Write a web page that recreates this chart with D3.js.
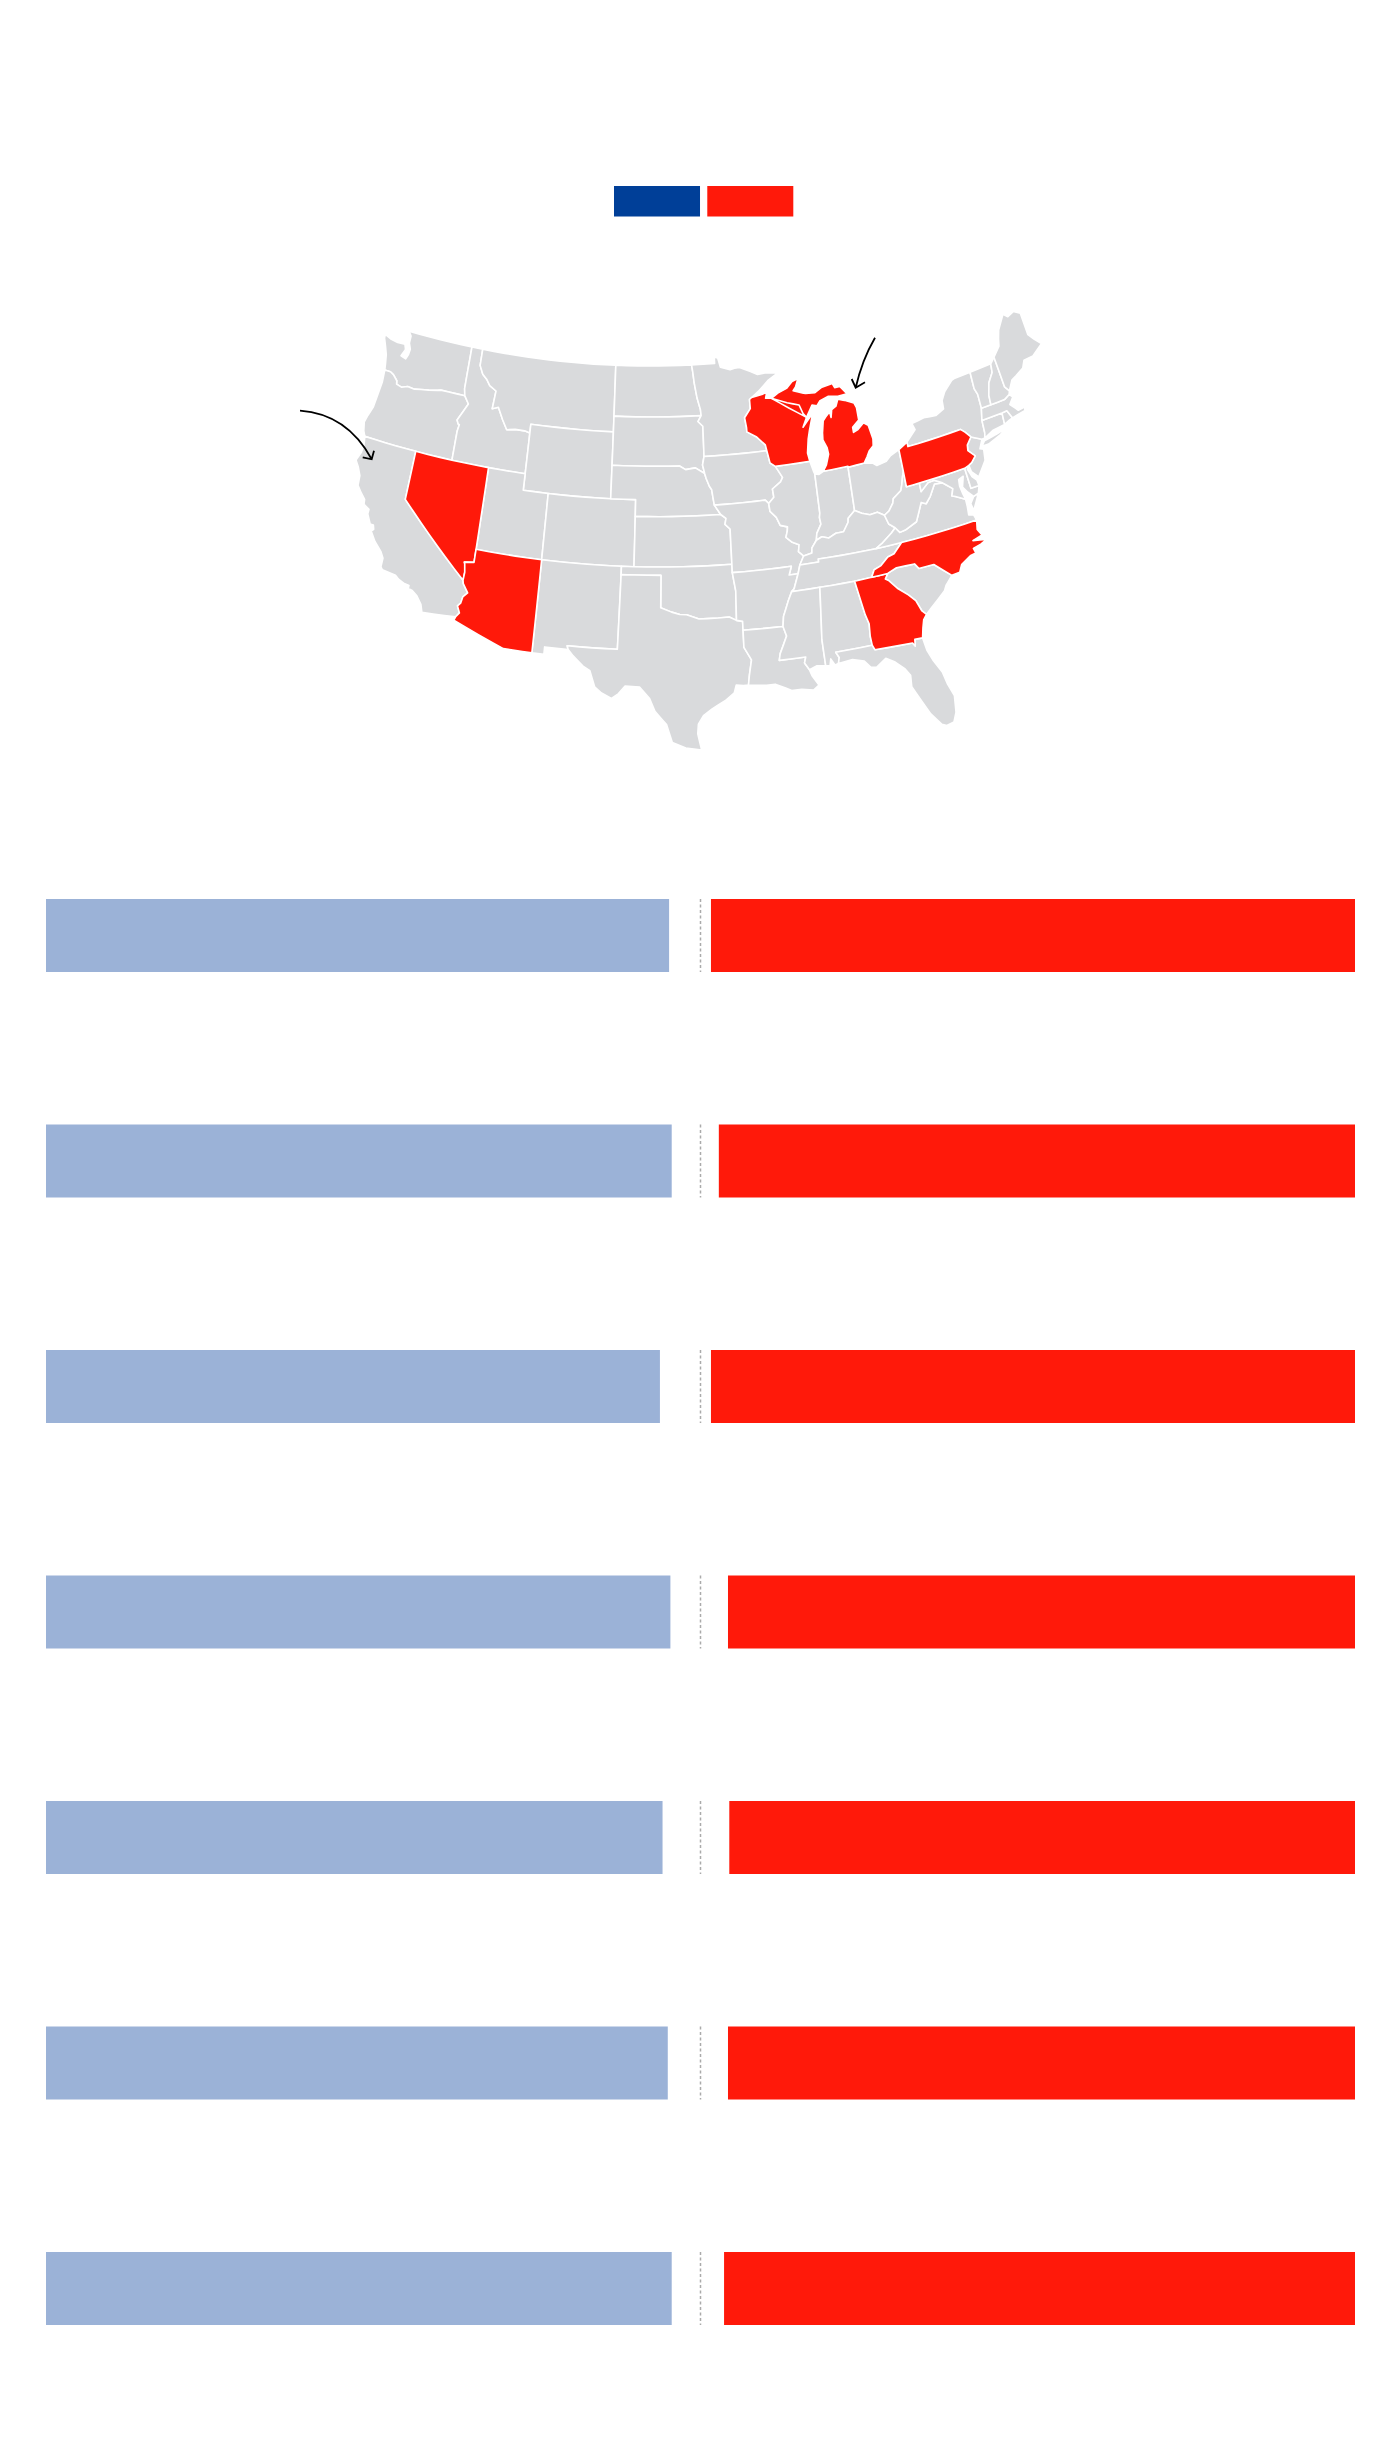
<!DOCTYPE html>
<html>
<head>
<meta charset="utf-8">
<script src="https://cdnjs.cloudflare.com/ajax/libs/d3/7.8.5/d3.min.js"></script>
<style>
  html, body { margin: 0; background: #fff; }
  svg { display: block; }
</style>
</head>
<body>
<div class="chart"></div>
<script>
// poll shares, top row to bottom row
const demShare = [47.6, 47.8, 46.9, 47.7, 47.1, 47.5, 47.8];
const repShare = [49.2, 48.6, 49.2, 47.9, 47.8, 47.9, 48.2];
const legendKeys = ["dem", "rep"];
const swingStates = ["NV", "AZ", "WI", "MI", "PA", "NC", "GA"];

// border pieces, lon/lat
const waCoast = [[-124,46.27],[-124.07,46.65],[-124.2,47.2],[-124.45,47.7],[-124.7,48.15],[-124.72,48.38],[-124.1,48.2],[-123.5,48.13],[-122.85,48.15],[-122.7,47.85],[-122.95,47.4],[-122.5,47.3],[-122.35,47.6],[-122.3,47.95],[-122.5,48.3],[-122.5,48.75],[-122.76,49]];
const n49West = [[-122.76,49],[-117.03,49]];
const n49Id = [[-117.03,49],[-116.05,49]];
const n49Mt = [[-116.05,49],[-104.05,49]];
const n49Nd = [[-104.05,49],[-97.23,49]];
const waId = [[-116.92,46],[-117.04,46.42],[-117.04,47.5],[-117.03,49]];
const waOr = [[-124,46.27],[-123.5,46.27],[-123.2,46.15],[-122.8,45.85],[-122.75,45.65],[-122.3,45.55],[-121.8,45.7],[-121.2,45.65],[-120.65,45.74],[-120,45.82],[-119.3,45.93],[-119,46],[-116.92,46]];
const orId = [[-116.92,46],[-116.5,45.55],[-116.85,45],[-117.2,44.45],[-117.05,44.23],[-116.95,44.2],[-117.03,43.8],[-117.03,42]];
const orCoast = [[-124,46.27],[-123.95,45.5],[-124.05,44.7],[-124.15,43.9],[-124.4,43.3],[-124.55,42.84],[-124.4,42.3],[-124.21,42]];
const caOr = [[-124.21,42],[-120,42]];
const nvOr = [[-120,42],[-117.03,42]];
const nvId = [[-117.03,42],[-114.04,42]];
const utId = [[-114.04,42],[-111.05,42]];
const caNv = [[-120,42],[-120,39],[-114.63,35]];
const caCoast = [[-124.21,42],[-124.1,41.5],[-124.15,41],[-124.4,40.45],[-124.1,40.1],[-123.8,39.6],[-123.75,39],[-123.35,38.6],[-123,38.3],[-122.95,38],[-122.5,37.8],[-122.5,37.5],[-122.15,36.95],[-121.9,36.95],[-121.8,36.7],[-121.95,36.55],[-121.5,36],[-120.9,35.5],[-120.65,35.15],[-120.65,34.6],[-120.5,34.45],[-119.5,34.35],[-119.2,34.15],[-118.8,34],[-118.4,33.95],[-118.4,33.75],[-118.1,33.7],[-117.7,33.45],[-117.3,33],[-117.12,32.53]];
const caAz = [[-114.63,35],[-114.57,34.8],[-114.15,34.3],[-114.45,34],[-114.53,33.6],[-114.72,33.4],[-114.5,33],[-114.72,32.72]];
const caMex = [[-117.12,32.53],[-114.72,32.72]];
const nvAz = [[-114.63,35],[-114.6,35.5],[-114.7,36],[-114.75,36.1],[-114.04,36.2],[-114.04,37]];
const nvUt = [[-114.04,37],[-114.04,42]];
const azUt = [[-114.04,37],[-109.05,37]];
const azNm = [[-109.05,37],[-109.05,31.33]];
const azMex = [[-114.72,32.72],[-114.81,32.5],[-111.07,31.33],[-109.05,31.33]];
const utWy = [[-111.05,42],[-111.05,41],[-109.05,41]];
const utCo = [[-109.05,41],[-109.05,37]];
const idWy = [[-111.05,44.47],[-111.05,42]];
const mtId = [[-116.05,49],[-116.05,48],[-115.7,47.5],[-115.3,47.25],[-114.95,46.9],[-114.35,46.65],[-114.45,45.55],[-113.95,45.7],[-113.45,45],[-113,44.45],[-112.3,44.55],[-111.5,44.55],[-111.05,44.47]];
const mtWy = [[-111.05,44.47],[-111.05,45],[-104.05,45]];
const mtNd = [[-104.05,49],[-104.05,45.94]];
const mtSd = [[-104.05,45.94],[-104.05,45]];
const ndSd = [[-104.05,45.94],[-96.56,45.94]];
const sdWy = [[-104.05,45],[-104.05,43]];
const neWy = [[-104.05,43],[-104.05,41]];
const neSd = [[-104.05,43],[-98.5,43],[-98,42.77],[-97.2,42.85],[-96.45,42.49]];
const wyCo = [[-109.05,41],[-104.05,41]];
const neCo = [[-104.05,41],[-102.05,41],[-102.05,40]];
const ksCo = [[-102.05,40],[-102.05,37]];
const neKs = [[-102.05,40],[-95.3,40]];
const ksOk = [[-102.05,37],[-94.62,37]];
const okCo = [[-103,37],[-102.05,37]];
const nmCo = [[-109.05,37],[-103,37]];
const nmOk = [[-103,37],[-103,36.5]];
const nmTx = [[-103,36.5],[-103.05,32],[-106.62,32],[-106.53,31.78]];
const nmMex = [[-109.05,31.33],[-108.2,31.33],[-108.2,31.78],[-106.53,31.78]];
const okTx = [[-103,36.5],[-100,36.5],[-100,34.56],[-99.2,34.3],[-98.6,34.15],[-98.1,34.13],[-97.2,33.85],[-96.6,33.85],[-95.8,33.85],[-95,33.87],[-94.48,33.64]];
const okAr = [[-94.62,36.5],[-94.43,35.4],[-94.48,33.64]];
const okMo = [[-94.62,37],[-94.62,36.5]];
const rioGrande = [[-106.53,31.78],[-106.2,31.47],[-105.4,30.85],[-104.9,30.6],[-104.5,29.65],[-104,29.3],[-103.3,29],[-102.85,29.3],[-102.4,29.8],[-101.4,29.77],[-100.7,29.1],[-100.3,28.3],[-99.5,27.5],[-99.1,26.4],[-98.2,26.05],[-97.15,25.9]];
const txCoast = [[-97.15,25.9],[-97.4,26.9],[-97.35,27.5],[-97,28],[-96.4,28.4],[-95.5,28.85],[-94.85,29.3],[-94.7,29.75],[-94.2,29.7],[-93.85,29.7]];
const txLa = [[-93.85,29.7],[-93.75,30.3],[-93.55,31.2],[-94.04,31.99],[-94.04,33.02]];
const txAr = [[-94.04,33.02],[-94.04,33.55],[-94.48,33.64]];
const arLa = [[-94.04,33.02],[-91.15,33]];
const laMs = [[-91.15,33],[-90.95,32.4],[-91.5,31.4],[-91.6,31],[-89.73,31],[-89.85,30.65],[-89.55,30.2]];
const laCoast = [[-93.85,29.7],[-92.6,29.58],[-92,29.6],[-91.3,29.3],[-90.9,29.1],[-90.2,29.1],[-89.4,28.95],[-89,29.2],[-89.4,29.8],[-89.55,30.2]];
const arMs = [[-91.15,33],[-91.05,33.6],[-90.6,34.5],[-90.3,35]];
const arTn = [[-90.3,35],[-90.1,35.15],[-89.7,36]];
const arMo = [[-94.62,36.5],[-90.15,36.5],[-90.37,36],[-89.7,36]];
const moTn = [[-89.7,36],[-89.5,36.5]];
const moKy = [[-89.5,36.5],[-89.15,37]];
const moIl = [[-89.15,37],[-89.5,37.3],[-89.4,37.7],[-89.9,37.9],[-90.35,38.25],[-90.2,38.6],[-90.15,38.85],[-90.7,39],[-90.95,39.5],[-91.4,39.9],[-91.45,40.38]];
const moIa = [[-91.45,40.38],[-91.7,40.6],[-95.77,40.58]];
const moKs = [[-94.62,37],[-94.62,39.1],[-95,39.4],[-94.9,39.75],[-95.3,40]];
const moNe = [[-95.3,40],[-95.77,40.58]];
const neIa = [[-95.77,40.58],[-95.85,41],[-95.93,41.5],[-96.1,41.7],[-96.35,42.2],[-96.45,42.49]];
const iaSd = [[-96.45,42.49],[-96.6,43],[-96.45,43.5]];
const mnIa = [[-96.45,43.5],[-91.22,43.5]];
const sdMn = [[-96.45,43.5],[-96.45,45.3],[-96.85,45.6],[-96.56,45.94]];
const ndMn = [[-96.56,45.94],[-96.6,46.3],[-96.85,47],[-97.05,47.9],[-97.15,48.6],[-97.23,49]];
const mnNorth = [[-97.23,49],[-95.15,49],[-95.15,49.38],[-94.85,49.32],[-94.65,48.75],[-93.8,48.55],[-93.4,48.6],[-92.95,48.62],[-92,48.3],[-91.4,48.07],[-90.75,48.1],[-89.6,48],[-90.5,47.65],[-91.5,47.05],[-92.1,46.75]];
const mnWi = [[-92.1,46.75],[-92.3,46.65],[-92.3,46.1],[-92.85,45.6],[-92.75,45],[-92.75,44.75],[-92,44.4],[-91.3,43.85],[-91.22,43.5]];
const wiIa = [[-91.22,43.5],[-91.05,42.75],[-90.64,42.51]];
const ilIa = [[-90.64,42.51],[-90.15,41.8],[-90.35,41.55],[-91.05,41.2],[-91,40.7],[-91.45,40.38]];
const wiIl = [[-90.64,42.51],[-87.8,42.49]];
const wiShore = [[-87.8,42.49],[-87.9,43],[-87.7,43.8],[-87.5,44.3],[-87.05,45.25],[-87.6,44.85],[-88,44.55],[-87.6,45.1]];
const wiUp = [[-87.6,45.1],[-87.85,45.35],[-88.1,45.9],[-89.1,46.15],[-90.4,46.55]];
const wiSuperior = [[-90.4,46.55],[-90.9,46.6],[-90.75,46.95],[-91.2,46.85],[-92.1,46.75]];
const upShore = [[-90.4,46.55],[-89.8,46.8],[-89,47],[-88.45,47.35],[-87.9,47.47],[-88.2,47],[-88.45,46.8],[-87.6,46.55],[-87.4,46.5],[-86.6,46.45],[-86,46.67],[-85,46.77],[-84.85,46.5],[-84.4,46.5],[-84.1,46.2],[-83.9,45.98],[-84.7,45.95],[-85.5,46.08],[-86.3,45.9],[-86.6,45.65],[-87,45.75],[-87.6,45.1]];
const lpShore = [[-86.82,41.76],[-86.5,42.1],[-86.2,42.7],[-86.25,43.1],[-86.5,43.6],[-86.45,44],[-86.25,44.7],[-86,44.9],[-85.6,45.15],[-85.55,44.8],[-85.4,45.25],[-85,45.4],[-84.75,45.78],[-84.2,45.63],[-83.45,45.35],[-83.3,45.05],[-83.3,44.3],[-83.9,43.95],[-83.9,43.65],[-83.5,43.75],[-82.95,44.07],[-82.6,43.85],[-82.42,43],[-82.5,42.6],[-82.9,42.35],[-83.15,42.05],[-83.45,41.73]];
const miOh = [[-83.45,41.73],[-84.8,41.7]];
const miIn = [[-84.8,41.7],[-84.8,41.76],[-86.82,41.76]];
const ilShore = [[-87.8,42.49],[-87.6,41.85],[-87.53,41.7]];
const inShore = [[-87.53,41.7],[-87.2,41.62],[-86.82,41.76]];
const ilIn = [[-87.53,41.7],[-87.53,39.35],[-87.6,39.1],[-87.55,38.7],[-87.95,38.2],[-88.05,37.8]];
const ilKy = [[-88.05,37.8],[-88.45,37.4],[-88.5,37.1],[-89.15,37]];
const inKy = [[-88.05,37.8],[-87.6,37.95],[-87.1,37.8],[-86.5,38],[-85.9,38],[-85.45,38.5],[-85.4,38.73],[-84.82,39.1]];
const inOh = [[-84.82,39.1],[-84.8,41.7]];
const ohKy = [[-84.82,39.1],[-84.3,38.85],[-83.7,38.65],[-83.1,38.7],[-82.6,38.42]];
const ohWv = [[-82.6,38.42],[-82.2,38.6],[-81.8,39],[-81.7,39.25],[-81,39.6],[-80.85,39.9],[-80.65,40.4],[-80.52,40.64]];
const ohPa = [[-80.52,40.64],[-80.52,41.98]];
const ohErie = [[-80.52,41.98],[-81.3,41.75],[-81.7,41.5],[-82.5,41.4],[-82.8,41.6],[-83.45,41.73]];
const kyTn = [[-89.5,36.5],[-88.07,36.5],[-88.07,36.68],[-83.68,36.6]];
const kyVa = [[-83.68,36.6],[-83.1,36.85],[-82.3,37.3],[-81.97,37.54]];
const kyWv = [[-81.97,37.54],[-82.4,37.85],[-82.6,38.42]];
const msTn = [[-90.3,35],[-88.2,35]];
const alTn = [[-88.2,35],[-85.6,34.98]];
const gaTn = [[-85.6,34.98],[-84.32,34.99]];
const ncTn = [[-84.32,34.99],[-84.05,35.4],[-83.5,35.55],[-82.9,35.95],[-82.4,36.05],[-81.7,36.59]];
const vaTn = [[-83.68,36.6],[-81.7,36.59]];
const vaNc = [[-81.7,36.59],[-75.87,36.55]];
const msAl = [[-88.2,35],[-88.47,31.9],[-88.4,30.3]];
const msCoast = [[-88.4,30.3],[-89,30.38],[-89.55,30.2]];
const alGa = [[-85.6,34.98],[-85.18,32.87],[-85,32.3],[-85.05,31.55],[-85,31]];
const alFl = [[-85,31],[-87.6,31],[-87.4,30.65],[-87.5,30.3]];
const alCoast = [[-88.4,30.3],[-88.1,30.25],[-88,30.65],[-87.75,30.25],[-87.5,30.3]];
const gaFl = [[-85,31],[-84.86,30.7],[-82.2,30.57],[-82.05,30.35],[-82,30.75],[-81.45,30.72]];
const flCoast = [[-87.5,30.3],[-86.5,30.38],[-85.7,30.15],[-85.3,29.7],[-84.9,29.65],[-84.2,30.05],[-83.6,29.7],[-83,29.15],[-82.7,28.7],[-82.75,28],[-82.5,27.5],[-82.15,26.8],[-81.8,26.1],[-81.2,25.3],[-80.9,25.15],[-80.4,25.25],[-80.15,25.8],[-80.05,26.8],[-80.35,27.6],[-80.55,28.4],[-81,29.2],[-81.3,29.9],[-81.45,30.72]];
const gaCoast = [[-81.45,30.72],[-81.3,31.3],[-81.15,31.75],[-80.88,32.03]];
const gaSc = [[-80.88,32.03],[-81.15,32.3],[-81.45,33],[-81.9,33.45],[-82.6,34],[-83.1,34.55],[-83.35,34.7],[-83.11,35]];
const gaNc = [[-83.11,35],[-84.32,34.99]];
const scNc = [[-83.11,35],[-82.4,35.2],[-81.05,35.15],[-80.8,34.82],[-79.67,34.8],[-78.55,33.86]];
const scCoast = [[-78.55,33.86],[-79.1,33.4],[-79.3,33.1],[-79.9,32.7],[-80.5,32.3],[-80.88,32.03]];
const ncCoast = [[-78.55,33.86],[-77.95,33.9],[-77.7,34.3],[-76.9,34.65],[-76.5,34.7],[-76.6,35],[-76,35.1],[-75.53,35.25],[-76,35.35],[-76.5,35.45],[-75.75,35.6],[-76,36],[-75.87,36.55]];
const vaCoast = [[-75.87,36.55],[-76,36.92],[-76.35,37],[-76.3,37.5],[-76.3,37.95]];
const vaMd = [[-76.3,37.95],[-77,38.3],[-77.25,38.4],[-77.05,38.8],[-77.5,39.15],[-77.72,39.32]];
const vaWv = [[-77.72,39.32],[-78.35,39.4],[-78.87,38.77],[-79.3,38.42],[-79.65,38.58],[-80.3,37.55],[-81.25,37.25],[-81.68,37.2],[-81.97,37.54]];
const wvMd = [[-77.72,39.32],[-78.3,39.62],[-78.8,39.6],[-79.48,39.2],[-79.48,39.72]];
const wvPa = [[-79.48,39.72],[-80.52,39.72],[-80.52,40.64]];
const mdPa = [[-79.48,39.72],[-75.79,39.72]];
const deMd = [[-75.79,39.72],[-75.7,38.46],[-75.05,38.45]];
const deCoast = [[-75.05,38.45],[-75.1,38.8],[-75.4,39.1],[-75.6,39.6],[-75.42,39.8]];
const dePa = [[-75.79,39.72],[-75.42,39.8]];
const mdBay = [[-75.05,38.45],[-75.25,38.03],[-75.65,37.95],[-76,38.3],[-76.3,38.7],[-76.05,39.3],[-76.45,39.2],[-76.5,38.8],[-76.4,38.3],[-76.3,37.95]];
const vaShore = [[-75.65,37.95],[-75.25,38.03],[-75.9,37.15],[-76,37.6]];
const paErie = [[-80.52,41.98],[-79.76,42.27]];
const paNy = [[-79.76,42.27],[-79.76,42],[-75.35,42]];
const paNyDel = [[-75.35,42],[-75.05,41.75],[-74.69,41.36]];
const paNj = [[-74.69,41.36],[-75.13,40.98],[-75.2,40.65],[-74.75,40.2],[-75.15,39.9],[-75.42,39.8]];
const njNy = [[-74.69,41.36],[-73.9,41]];
const njCoast = [[-73.9,41],[-74.25,40.5],[-73.98,40.4],[-74.1,39.75],[-74.9,38.95],[-75.35,39.4],[-75.42,39.8]];
const nyNorth = [[-79.76,42.27],[-78.9,42.85],[-79.05,43.25],[-78,43.37],[-77,43.27],[-76.25,43.5],[-76.2,44],[-75.8,44.45],[-75,44.95],[-74.7,45],[-73.35,45.01]];
const nyVt = [[-73.35,45.01],[-73.4,44],[-73.25,43.6],[-73.27,42.75]];
const nyMa = [[-73.27,42.75],[-73.5,42.05]];
const nyCt = [[-73.5,42.05],[-73.55,41.3],[-73.65,41]];
const nyCoast = [[-73.65,41],[-73.9,41]];
const longIsland = [[-74.05,40.6],[-73.75,40.85],[-72.6,40.97],[-71.87,41.07],[-72.4,40.85],[-73.5,40.58]];
const vtMa = [[-73.27,42.75],[-72.46,42.73]];
const vtNh = [[-72.46,42.73],[-72.4,43.3],[-72.1,44],[-71.6,44.5],[-71.5,45.01]];
const vtCan = [[-71.5,45.01],[-73.35,45.01]];
const nhMa = [[-72.46,42.73],[-71.3,42.7],[-70.82,42.87]];
const nhCoast = [[-70.82,42.87],[-70.7,43.07]];
const nhMe = [[-70.7,43.07],[-70.98,43.4],[-71.08,45.3]];
const nhCan = [[-71.08,45.3],[-71.5,45.01]];
const meNorth = [[-71.08,45.3],[-70.4,45.8],[-70.25,46.2],[-70,46.7],[-69.23,47.46],[-68.9,47.2],[-68.3,47.35],[-67.8,47.07],[-67.8,45.7],[-67.45,45.3],[-67,44.85]];
const meCoast = [[-67,44.85],[-68,44.4],[-68.8,44.4],[-69.1,44],[-69.8,43.75],[-70.25,43.6],[-70.7,43.07]];
const maCoast = [[-70.82,42.87],[-70.6,42.65],[-71,42.3],[-70.65,41.95],[-70.5,41.78],[-70.05,41.8],[-70.25,42.07],[-69.95,41.85],[-70,41.6],[-70.65,41.55],[-71.12,41.5]];
const maRi = [[-71.12,41.5],[-71.38,42.02],[-71.8,42.02]];
const maCt = [[-71.8,42.02],[-73.5,42.05]];
const ctCoast = [[-73.65,41],[-72.9,41.25],[-71.86,41.32]];
const ctRi = [[-71.86,41.32],[-71.8,42.02]];
const riCoast = [[-71.86,41.32],[-71.4,41.45],[-71.12,41.5]];

const rev = a => a.slice().reverse();
const ring = (...parts) => parts.flat();

const stateRings = {
  WA: [ring(waCoast, n49West, rev(waId), rev(waOr))],
  OR: [ring(waOr, orId, rev(nvOr), rev(caOr), rev(orCoast))],
  CA: [ring(caOr, caNv, caAz, rev(caMex), rev(caCoast))],
  NV: [ring(nvOr, nvId, rev(nvUt), rev(nvAz), rev(caNv))],
  ID: [ring(n49Id, mtId, idWy, rev(utId), rev(nvId), rev(orId), waId)],
  MT: [ring(n49Mt, mtNd, mtSd, rev(mtWy), rev(mtId))],
  WY: [ring(mtWy, sdWy, neWy, rev(wyCo), rev(utWy), rev(idWy))],
  UT: [ring(utId, utWy, utCo, rev(azUt), nvUt)],
  AZ: [ring(azUt, azNm, rev(azMex), rev(caAz), nvAz)],
  CO: [ring(wyCo, neCo, ksCo, rev(okCo), rev(nmCo), rev(utCo))],
  NM: [ring(nmCo, nmOk, nmTx, rev(nmMex), rev(azNm))],
  ND: [ring(n49Nd, rev(ndMn), rev(ndSd), rev(mtNd))],
  SD: [ring(ndSd, rev(sdMn), rev(iaSd), rev(neSd), rev(sdWy), rev(mtSd))],
  NE: [ring(neSd, rev(neIa), rev(moNe), rev(neKs), rev(neCo), rev(neWy))],
  KS: [ring(neKs, rev(moKs), rev(ksOk), rev(ksCo))],
  OK: [ring(okCo, ksOk, okMo, okAr, rev(okTx))],
  TX: [ring(okTx, rev(txAr), rev(txLa), rev(txCoast), rev(rioGrande), rev(nmTx))],
  MN: [ring(mnNorth, mnWi, rev(mnIa), sdMn, ndMn)],
  IA: [ring(mnIa, wiIa, ilIa, moIa, neIa, iaSd)],
  MO: [ring(rev(moIa), rev(moIl), rev(moKy), rev(moTn), rev(arMo), rev(okMo), moKs, moNe)],
  AR: [ring(arMo, rev(arTn), rev(arMs), rev(arLa), txAr, rev(okAr))],
  LA: [ring(arLa, laMs, rev(laCoast), txLa)],
  WI: [ring(rev(wiSuperior), wiUp.slice().reverse(), rev(wiShore), rev(wiIl), rev(wiIa), rev(mnWi))],
  IL: [ring(wiIl, ilShore, ilIn, ilKy, moIl, rev(ilIa))],
  MI: [ring(wiUp, rev(upShore)), ring(lpShore, miOh, miIn)],
  IN: [ring(inShore, rev(miIn), rev(inOh), rev(inKy), rev(ilIn))],
  OH: [ring(ohErie, miOh, rev(inOh), ohKy, ohWv, ohPa)],
  KY: [ring(inKy, ohKy, rev(kyWv), rev(kyVa), rev(kyTn), moKy, rev(ilKy))],
  TN: [ring(kyTn, vaTn, rev(ncTn), rev(gaTn), rev(alTn), rev(msTn), arTn, moTn)],
  MS: [ring(msTn, msAl, msCoast, rev(laMs), arMs)],
  AL: [ring(alTn, alGa, alFl, rev(alCoast), rev(msAl))],
  GA: [ring(gaTn, rev(gaNc), rev(gaSc), rev(gaCoast), rev(gaFl), rev(alGa))],
  FL: [ring(rev(alFl), gaFl, rev(flCoast))],
  SC: [ring(rev(gaNc), scNc, scCoast, gaSc)],
  NC: [ring(ncTn, vaNc, rev(ncCoast), rev(scNc), gaNc)],
  VA: [ring(vaTn, vaNc, vaCoast, vaMd, vaWv, rev(kyVa)), vaShore],
  WV: [ring(kyWv, ohWv, rev(wvPa), rev(wvMd), vaWv)],
  MD: [ring(wvMd, mdPa, deMd, mdBay, vaMd)],
  DE: [ring(deMd, deCoast, rev(dePa))],
  PA: [ring(paErie, paNy, paNyDel, paNj, rev(dePa), rev(mdPa), wvPa, ohPa)],
  NJ: [ring(njNy, njCoast, rev(paNj))],
  NY: [ring(nyNorth, nyVt, nyMa, nyCt, nyCoast, rev(njNy), rev(paNyDel), rev(paNy)), longIsland],
  CT: [ring(rev(maCt), nyCt, ctCoast, ctRi)],
  RI: [ring(ctRi, rev(maRi), rev(riCoast))],
  MA: [ring(vtMa, nhMa, maCoast, maRi, maCt, rev(nyMa))],
  VT: [ring(vtCan, nyVt, vtMa, vtNh)],
  NH: [ring(vtNh, rev(nhCan), rev(nhMe), rev(nhCoast), rev(nhMa))],
  ME: [ring(meNorth, meCoast, nhMe)]
};

const width = 1400, height = 2460;

// albers, then a small warp so it lands where the reference map sits
const projection = d3.geoConicEqualArea().parallels([29.5, 45.5]).rotate([96, 0]).scale(1000).translate([0, 0]);
const warpX = [95.281, 2.975, 715.604, -0.127, -0.105, -0.331];
const warpY = [-5.187, 94.908, 621.657, -1.225, 0.475, -0.278];
const terms = q => { const u = q[0] / 100, v = q[1] / 100; return [u, v, 1, u * u, u * v, v * v]; };
const place = c => {
  const t = terms(projection(c));
  return [d3.sum(warpX, (w, i) => w * t[i]), d3.sum(warpY, (w, i) => w * t[i])];
};
// straight borders follow parallels, so add points along long segments
const densify = r => {
  const out = [];
  r.forEach((c, i) => {
    const nxt = r[(i + 1) % r.length];
    const steps = Math.max(1, Math.ceil(Math.hypot(nxt[0] - c[0], nxt[1] - c[1])));
    d3.range(steps).forEach(s => out.push([c[0] + (nxt[0] - c[0]) * s / steps, c[1] + (nxt[1] - c[1]) * s / steps]));
  });
  return out;
};
const line = d3.line().curve(d3.curveLinearClosed);
const statePath = rings => rings.map(r => line(densify(r).map(place))).join("");

const svg = d3.select(".chart").append("svg").attr("width", width).attr("height", height).style("background", "#fff");

const stateIds = Object.keys(stateRings).sort((a, b) => swingStates.includes(a) - swingStates.includes(b));
svg.append("g").selectAll("path").data(stateIds).enter().append("path")
  .attr("d", d => statePath(stateRings[d]))
  .attr("fill", d => swingStates.includes(d) ? "#ff190a" : "#d9dadc")
  .attr("stroke", "#fff").attr("stroke-width", 1.6).attr("stroke-linejoin", "round");

// legend
const legendX = d3.scaleBand().domain(legendKeys).range([614, 793.3]).paddingInner(0.078);
svg.selectAll("rect.legend").data(legendKeys).enter().append("rect").attr("class", "legend")
  .attr("x", d => legendX(d)).attr("y", 186).attr("width", legendX.bandwidth()).attr("height", 30.5)
  .attr("fill", d => d === "dem" ? "#003f98" : "#ff190a");

// bars
const xScale = d3.scaleLinear().domain([0, 100]).range([46, 1355]);
const barH = 73;
const yScale = d3.scaleLinear().domain([0, 6]).range([899, 2252]);
const rows = svg.selectAll("g.row").data(demShare).enter().append("g").attr("class", "row")
  .attr("transform", (d, i) => `translate(0,${yScale(i)})`);
rows.append("rect").attr("x", xScale(0)).attr("width", d => xScale(d) - xScale(0)).attr("height", barH).attr("fill", "#9bb2d7");
rows.append("rect").attr("x", (d, i) => xScale(100 - repShare[i])).attr("width", (d, i) => xScale(100) - xScale(100 - repShare[i])).attr("height", barH).attr("fill", "#ff190a");
rows.append("line").attr("x1", xScale(50)).attr("x2", xScale(50)).attr("y1", 0).attr("y2", barH)
  .attr("stroke", "#aaa").attr("stroke-width", 1.5).attr("stroke-dasharray", "3 2.5");

// arrows
const arrow = (start, ctrl, tip, barbA, barbB) => {
  const p = d3.path();
  p.moveTo(...start); p.quadraticCurveTo(...ctrl, ...tip);
  p.moveTo(...barbA); p.lineTo(...tip); p.lineTo(...barbB);
  svg.append("path").attr("d", p).attr("fill", "none").attr("stroke", "#000").attr("stroke-width", 1.8);
};
arrow([300, 410.7], [347, 414], [371.7, 459.3], [362.7, 457.3], [374, 450.7]);
arrow([875, 337.7], [862, 360], [855.7, 387.7], [851.7, 379], [865, 382.3]);
</script>
</body>
</html>
